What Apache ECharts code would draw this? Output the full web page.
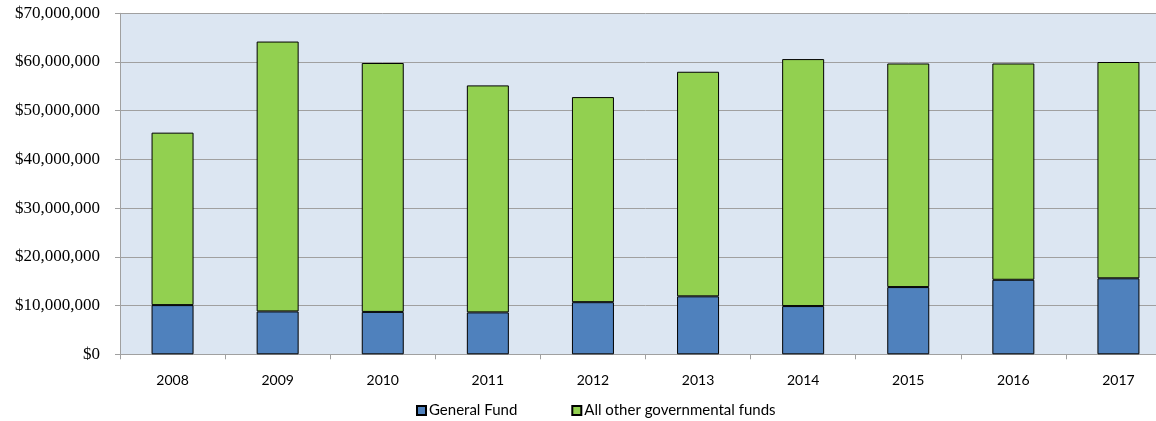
<!DOCTYPE html>
<html>
<head>
<meta charset="utf-8">
<script src="https://cdn.jsdelivr.net/npm/echarts@6/dist/echarts.min.js"></script>
<style>
  html, body { margin: 0; padding: 0; background: #ffffff; overflow: hidden; }
  /* the plot runs a little past the right edge of the page */
  #chart { width: 1171px; height: 421px; }
</style>
</head>
<body>
<div id="chart"></div>
<script>
// Fiscal years shown on the category axis
const years = ['2008', '2009', '2010', '2011', '2012', '2013', '2014', '2015', '2016', '2017'];

// Fund balances in dollars
const generalFund = [10100000, 8800000, 8700000, 8600000, 10700000, 11900000, 9900000, 13800000, 15300000, 15600000];
const totalFunds = [45500000, 64200000, 59800000, 55200000, 52800000, 58000000, 60600000, 59700000, 59700000, 60000000];
const otherFunds = totalFunds.map((t, i) => t - generalFund[i]);

// Value axis range
const yMin = 0;
const yMax = 70000000;
const yStep = 10000000;

const seriesNames = ['General Fund', 'All other governmental funds'];

function money(v) {
  return '$' + Math.round(v).toString().replace(/\B(?=(\d{3})+(?!\d))/g, ',');
}

const chart = echarts.init(document.getElementById('chart'), null, { renderer: 'canvas' });

chart.setOption({
  animation: false,
  backgroundColor: '#ffffff',
  grid: {
    left: 120,
    right: 0,
    top: 13.3,
    height: 341,
    show: true,
    backgroundColor: '#DCE6F2',
    borderWidth: 0
  },
  legend: {
    data: seriesNames,
    left: 411,
    top: 398,
    itemWidth: 9,
    itemHeight: 9,
    itemGap: 54,
    icon: 'rect',
    textStyle: {
      fontFamily: 'Lato, "Open Sans", sans-serif',
      fontSize: 15,
      color: '#000000',
      padding: [0, 0, 0, -2]
    }
  },
  xAxis: {
    type: 'category',
    data: years,
    boundaryGap: true,
    axisLine: { show: true, lineStyle: { color: '#A0A0A0', width: 1 } },
    axisTick: { show: true, length: 5, alignWithLabel: false, lineStyle: { color: '#A0A0A0' } },
    axisLabel: {
      margin: 19,
      fontFamily: 'Lato, "Open Sans", sans-serif',
      fontSize: 14,
      color: '#000000'
    },
    splitLine: { show: false }
  },
  yAxis: {
    type: 'value',
    min: yMin,
    max: yMax,
    interval: yStep,
    axisLine: { show: true, lineStyle: { color: '#A0A0A0', width: 1 } },
    axisTick: { show: true, length: 5, lineStyle: { color: '#A0A0A0' } },
    axisLabel: {
      margin: 20,
      formatter: money,
      fontFamily: '"Liberation Serif", "DejaVu Serif", serif',
      fontSize: 17,
      color: '#000000'
    },
    splitLine: { show: true, lineStyle: { color: '#A0A0A0', width: 1 } }
  },
  series: [
    {
      name: seriesNames[0],
      type: 'bar',
      stack: 'funds',
      data: generalFund,
      barWidth: 42,
      itemStyle: { color: '#4F81BD', borderColor: '#000000', borderWidth: 1 }
    },
    {
      name: seriesNames[1],
      type: 'bar',
      stack: 'funds',
      data: otherFunds,
      barWidth: 42,
      itemStyle: { color: '#92D050', borderColor: '#000000', borderWidth: 1 }
    }
  ]
});
</script>
</body>
</html>
